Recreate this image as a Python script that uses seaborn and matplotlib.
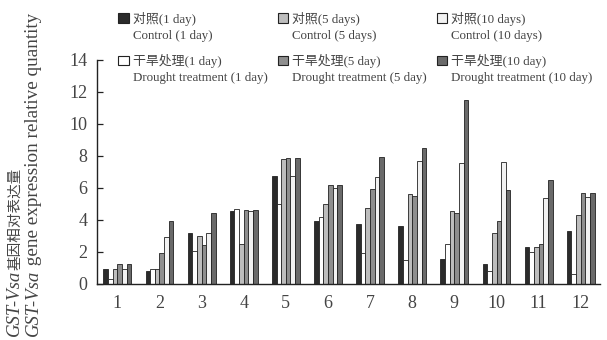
import matplotlib
matplotlib.use("Agg")
import matplotlib.pyplot as plt
import matplotlib.patches as mpatches
from matplotlib.text import Annotation
import seaborn as sns
import pandas as pd

# sample numbers on the x axis
groups = [str(i) for i in range(1, 13)]

# series, in the order bars appear inside each group
series_cn = ["对照(1 day)", "干旱处理(1 day)", "对照(5 days)",
             "干旱处理(5 day)", "对照(10 days)", "干旱处理(10 day)"]
series_en = ["Control (1 day)", "Drought treatment (1 day)", "Control (5 days)",
             "Drought treatment (5 day)", "Control (10 days)", "Drought treatment (10 day)"]

control_1d = [0.94, 0.80, 3.15, 4.56, 6.75, 3.94, 3.73, 3.63, 1.56, 1.23, 2.29, 3.33]
drought_1d = [0.30, 0.90, 2.08, 4.65, 4.98, 4.17, 1.92, 1.50, 2.50, 0.83, 2.02, 0.63]
control_5d = [0.90, 0.90, 2.98, 2.50, 7.80, 4.98, 4.73, 5.60, 4.58, 3.20, 2.29, 4.31]
drought_5d = [1.27, 1.94, 2.40, 4.60, 7.85, 6.15, 5.92, 5.50, 4.46, 3.90, 2.48, 5.67]
control_10d = [0.96, 2.90, 3.15, 4.54, 6.75, 6.02, 6.70, 7.69, 7.58, 7.60, 5.35, 5.40]
drought_10d = [1.27, 3.96, 4.40, 4.60, 7.85, 6.15, 7.90, 8.48, 11.50, 5.88, 6.50, 5.67]

values = [control_1d, drought_1d, control_5d, drought_5d, control_10d, drought_10d]
colors = ["#2b2b2b", "#ffffff", "#bdbdbd", "#8e8e8e", "#f2f2f2", "#6a6a6a"]

rows = []
for name, vals in zip(series_cn, values):
    for g, v in zip(groups, vals):
        rows.append({"group": g, "series": name, "value": v})
df = pd.DataFrame(rows)

sns.set_style("ticks")
plt.rcParams["font.family"] = ["Liberation Serif", "Noto Sans CJK SC"]

fig = plt.figure(figsize=(6.07, 3.4), dpi=100)
ax = fig.add_axes([0.160, 0.165, 0.828, 0.659])

sns.barplot(data=df, x="group", y="value", hue="series", order=groups,
            hue_order=series_cn, palette=colors, width=0.66,
            edgecolor="#222222", linewidth=0.6, legend=False, ax=ax)

ax.set_ylim(0, 14)
ax.set_yticks(range(0, 15, 2))
ax.set_xlim(-0.48, 11.45)
ax.set_xlabel("")
ax.set_ylabel("")
ax.tick_params(axis="y", direction="in", length=4, width=0.9, labelsize=13,
               pad=7, colors="#222222", labelcolor="#444444")
ax.tick_params(axis="x", length=0, labelsize=13, pad=8, labelcolor="#444444")
for side in ["top", "right"]:
    ax.spines[side].set_visible(False)
for side in ["left", "bottom"]:
    ax.spines[side].set_linewidth(1.0)
    ax.spines[side].set_color("#222222")

# legend: Chinese line in the legend, English line written under each entry
handles = [mpatches.Patch(facecolor=c, edgecolor="#222222", linewidth=0.8)
           for c in colors]
leg = fig.legend(handles, series_cn, ncol=3, loc="upper left",
                 bbox_to_anchor=(0.176, 1.0), frameon=False, fontsize=9.3,
                 handlelength=0.8, handleheight=0.8, handletextpad=0.35,
                 labelspacing=2.2, columnspacing=4.3, borderaxespad=0.5)
for txt in leg.get_texts():
    txt.set_color("#444444")
for txt, en in zip(leg.get_texts(), series_en):
    a = Annotation(en, xy=(0, 0), xycoords=txt, xytext=(0, -3),
                   textcoords="offset points", ha="left", va="top",
                   fontsize=9.3, color="#444444", zorder=10)
    fig.add_artist(a)

# y label, two lines, with the gene name in italics
for x0, size, rest in [(0.031, 10.5, "基因相对表达量"),
                       (0.062, 13.8, " gene expression relative quantity")]:
    t = fig.text(x0, 0.012, "GST-Vsa", rotation=90, rotation_mode="anchor",
                 ha="left", va="baseline", style="italic", fontsize=13.5,
                 color="#444444")
    a = Annotation(rest, xy=(x0, 1.0), xycoords=("figure fraction", t),
                   rotation=90, rotation_mode="anchor", ha="left", va="baseline",
                   fontsize=size, color="#444444", zorder=10)
    fig.add_artist(a)

fig.savefig("out.png", dpi=100)
